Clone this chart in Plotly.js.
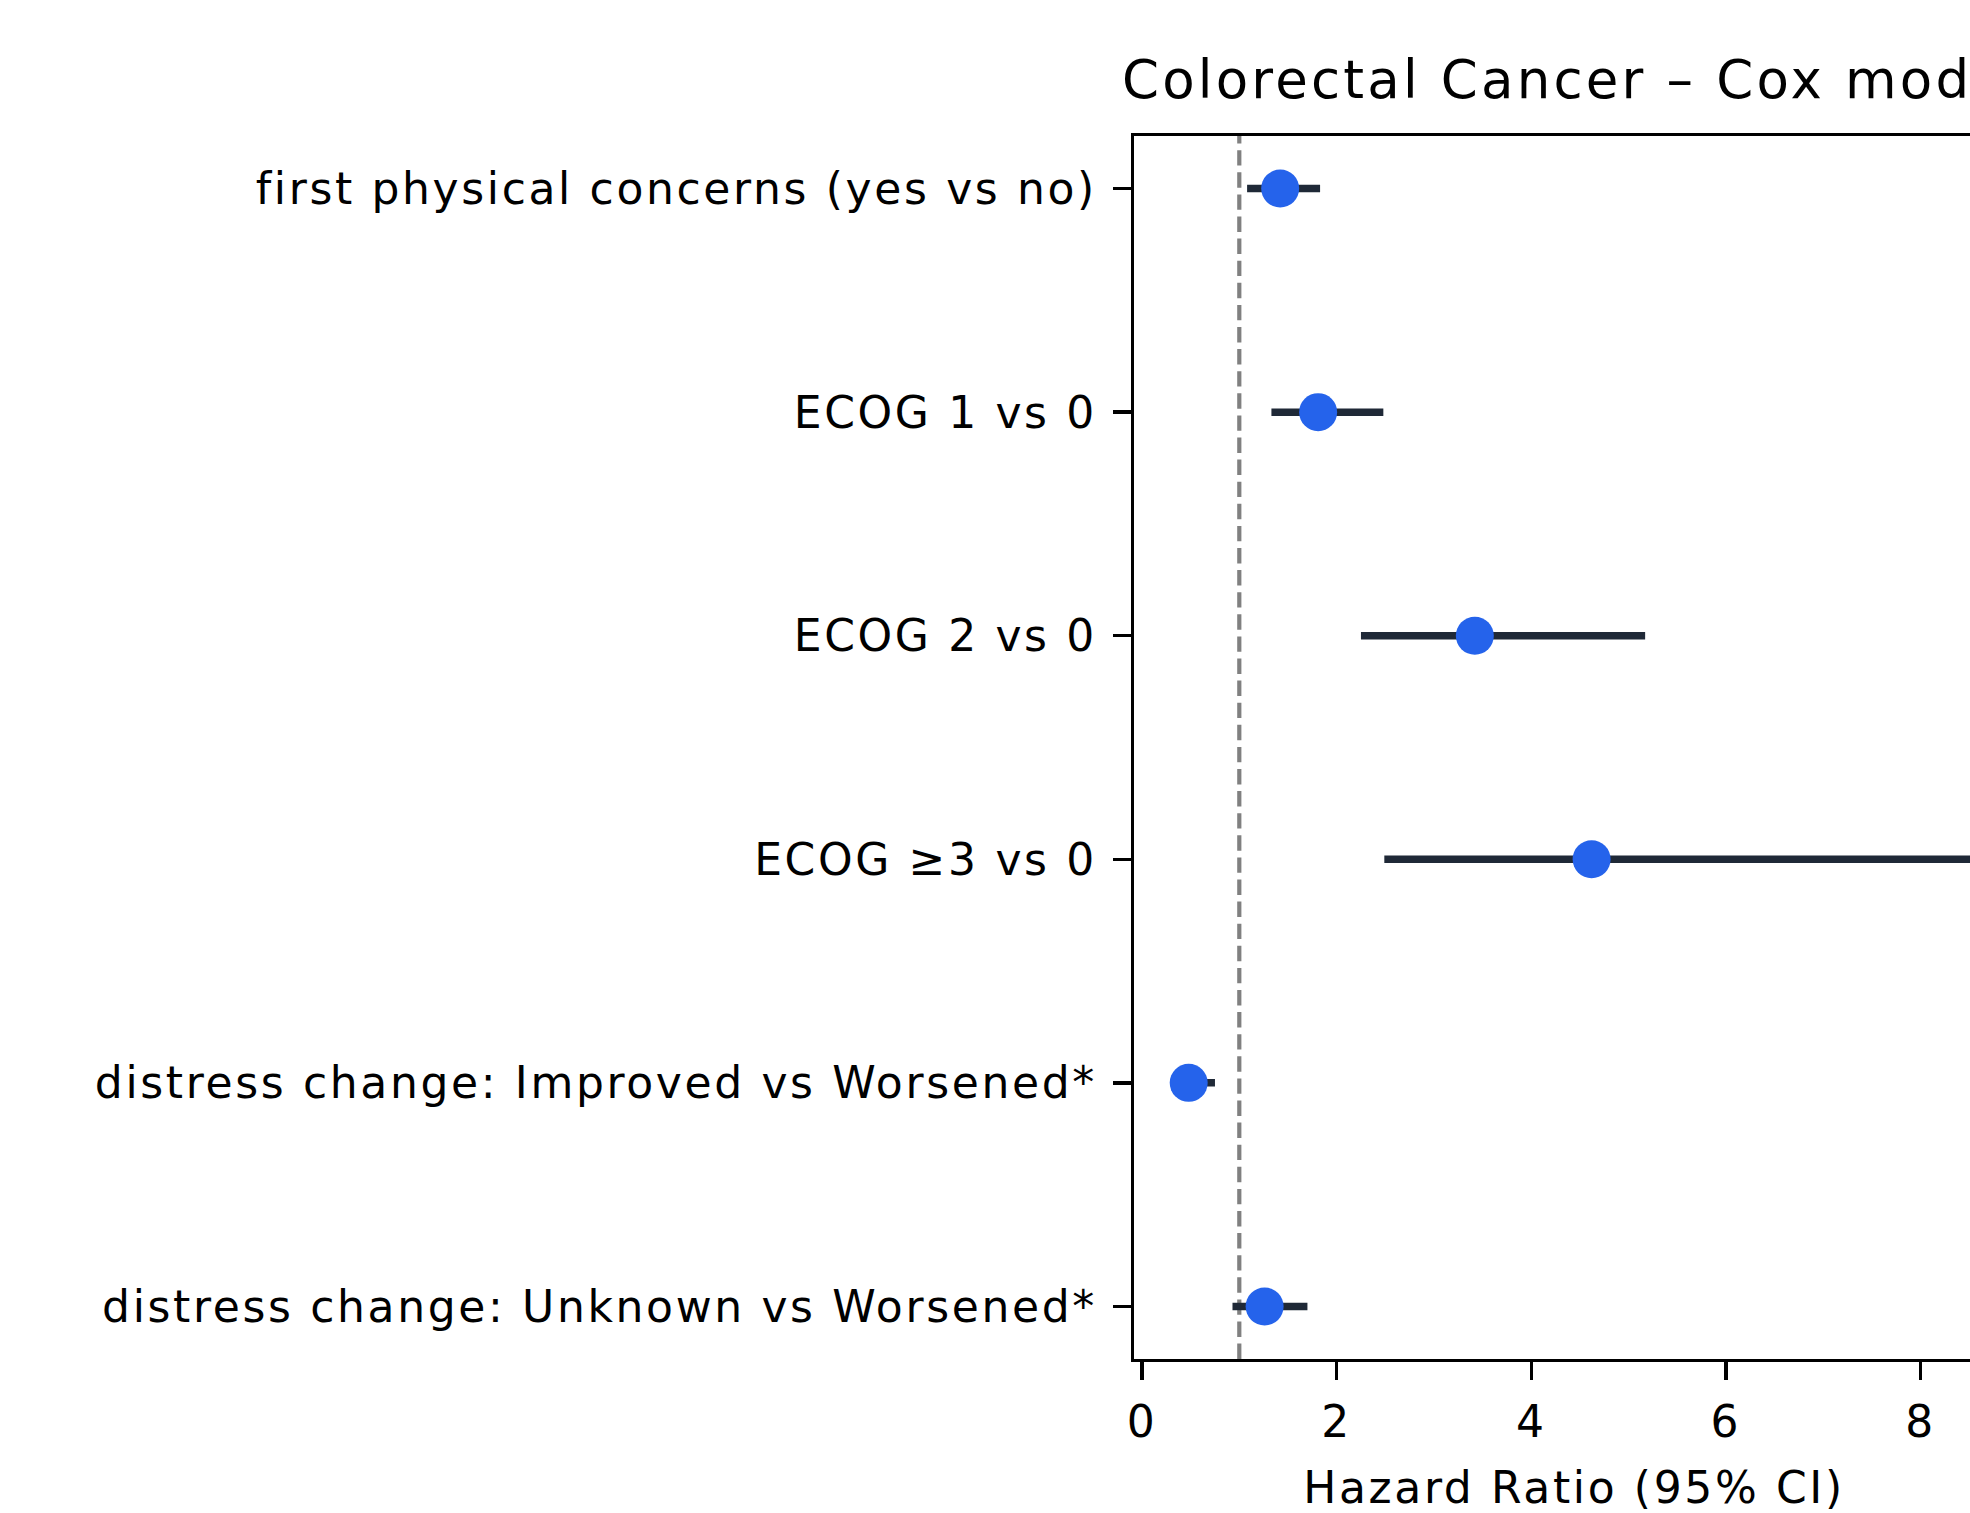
<!DOCTYPE html>
<html>
<head>
<meta charset="utf-8">
<script src="https://cdn.plot.ly/plotly-3.0.1.min.js"></script>
<style>
  html, body { margin: 0; padding: 0; overflow: hidden; background: #ffffff; }
  #chart { width: 2030px; height: 1513px; }
  svg text { letter-spacing: 0.06em; }
</style>
</head>
<body>
<div id="chart"></div>
<script>
// ---- data ----
const labels = [
  "first physical concerns (yes vs no)",
  "ECOG 1 vs 0",
  "ECOG 2 vs 0",
  "ECOG \u22653 vs 0",
  "distress change: Improved vs Worsened*",
  "distress change: Unknown vs Worsened*"
];
const hazardRatio = [1.42, 1.81, 3.42, 4.62, 0.48, 1.26];
const ciLower     = [1.08, 1.33, 2.25, 2.49, 0.31, 0.93];
const ciUpper     = [1.83, 2.48, 5.17, 8.54, 0.75, 1.70];
const referenceHR = 1;
const xTicks = [0, 2, 4, 6, 8];
const titleText = "Colorectal Cancer \u2013 Cox model";
const xTitleText = "Hazard Ratio (95% CI)";

const errPlus  = hazardRatio.map((v, i) => ciUpper[i] - v);
const errMinus = hazardRatio.map((v, i) => v - ciLower[i]);

const FONT = "DejaVu Sans, Verdana, sans-serif";
const LABEL_SIZE = 44;

const ciTrace = {
  type: "scatter", mode: "markers",
  x: hazardRatio, y: labels,
  marker: { size: 1, opacity: 0 },
  error_x: {
    type: "data", symmetric: false,
    array: errPlus, arrayminus: errMinus,
    color: "#1f2937", thickness: 7.5, width: 0
  },
  hoverinfo: "skip", showlegend: false
};
const pointTrace = {
  type: "scatter", mode: "markers",
  x: hazardRatio, y: labels,
  marker: { size: 38, color: "#2563eb", line: { width: 0 } },
  showlegend: false
};

const layout = {
  width: 2030, height: 1513,
  margin: { l: 1134, r: 16, t: 136, b: 154, pad: 0 },
  paper_bgcolor: "#ffffff", plot_bgcolor: "#ffffff",
  font: { family: FONT, color: "#000000", size: LABEL_SIZE },
  title: {
    text: titleText,
    font: { family: FONT, size: 53, color: "#000000" },
    xref: "paper", x: 0.5, xanchor: "center",
    yref: "container", y: 1 - 79 / 1513, yanchor: "middle"
  },
  xaxis: {
    range: [-0.082, 8.96],
    tickvals: xTicks, ticktext: xTicks.map(String),
    ticks: "outside", ticklen: 18, tickwidth: 3.3, tickcolor: "#000000",
    showline: true, linewidth: 3.3, linecolor: "#000000", mirror: true,
    showgrid: false, zeroline: false,
    tickfont: { family: FONT, size: LABEL_SIZE, color: "#000000" },
    ticklabelstandoff: 4,
    title: { text: xTitleText, font: { family: FONT, size: LABEL_SIZE, color: "#000000" }, standoff: 28 }
  },
  yaxis: {
    type: "category",
    categoryorder: "array", categoryarray: labels,
    range: [5.235, -0.235],
    ticks: "outside", ticklen: 18, tickwidth: 3.3, tickcolor: "#000000",
    showline: true, linewidth: 3.3, linecolor: "#000000", mirror: false,
    showgrid: false, zeroline: false,
    tickfont: { family: FONT, size: LABEL_SIZE, color: "#000000" },
    ticklabelstandoff: 7
  },
  shapes: [{
    type: "line", xref: "x", yref: "paper",
    x0: referenceHR, x1: referenceHR, y0: 0, y1: 1,
    line: { color: "#808080", width: 4.2, dash: "15.4px,6.7px" },
    layer: "below"
  }]
};

Plotly.newPlot("chart", [ciTrace, pointTrace], layout, { displayModeBar: false, staticPlot: true });
</script>
</body>
</html>
